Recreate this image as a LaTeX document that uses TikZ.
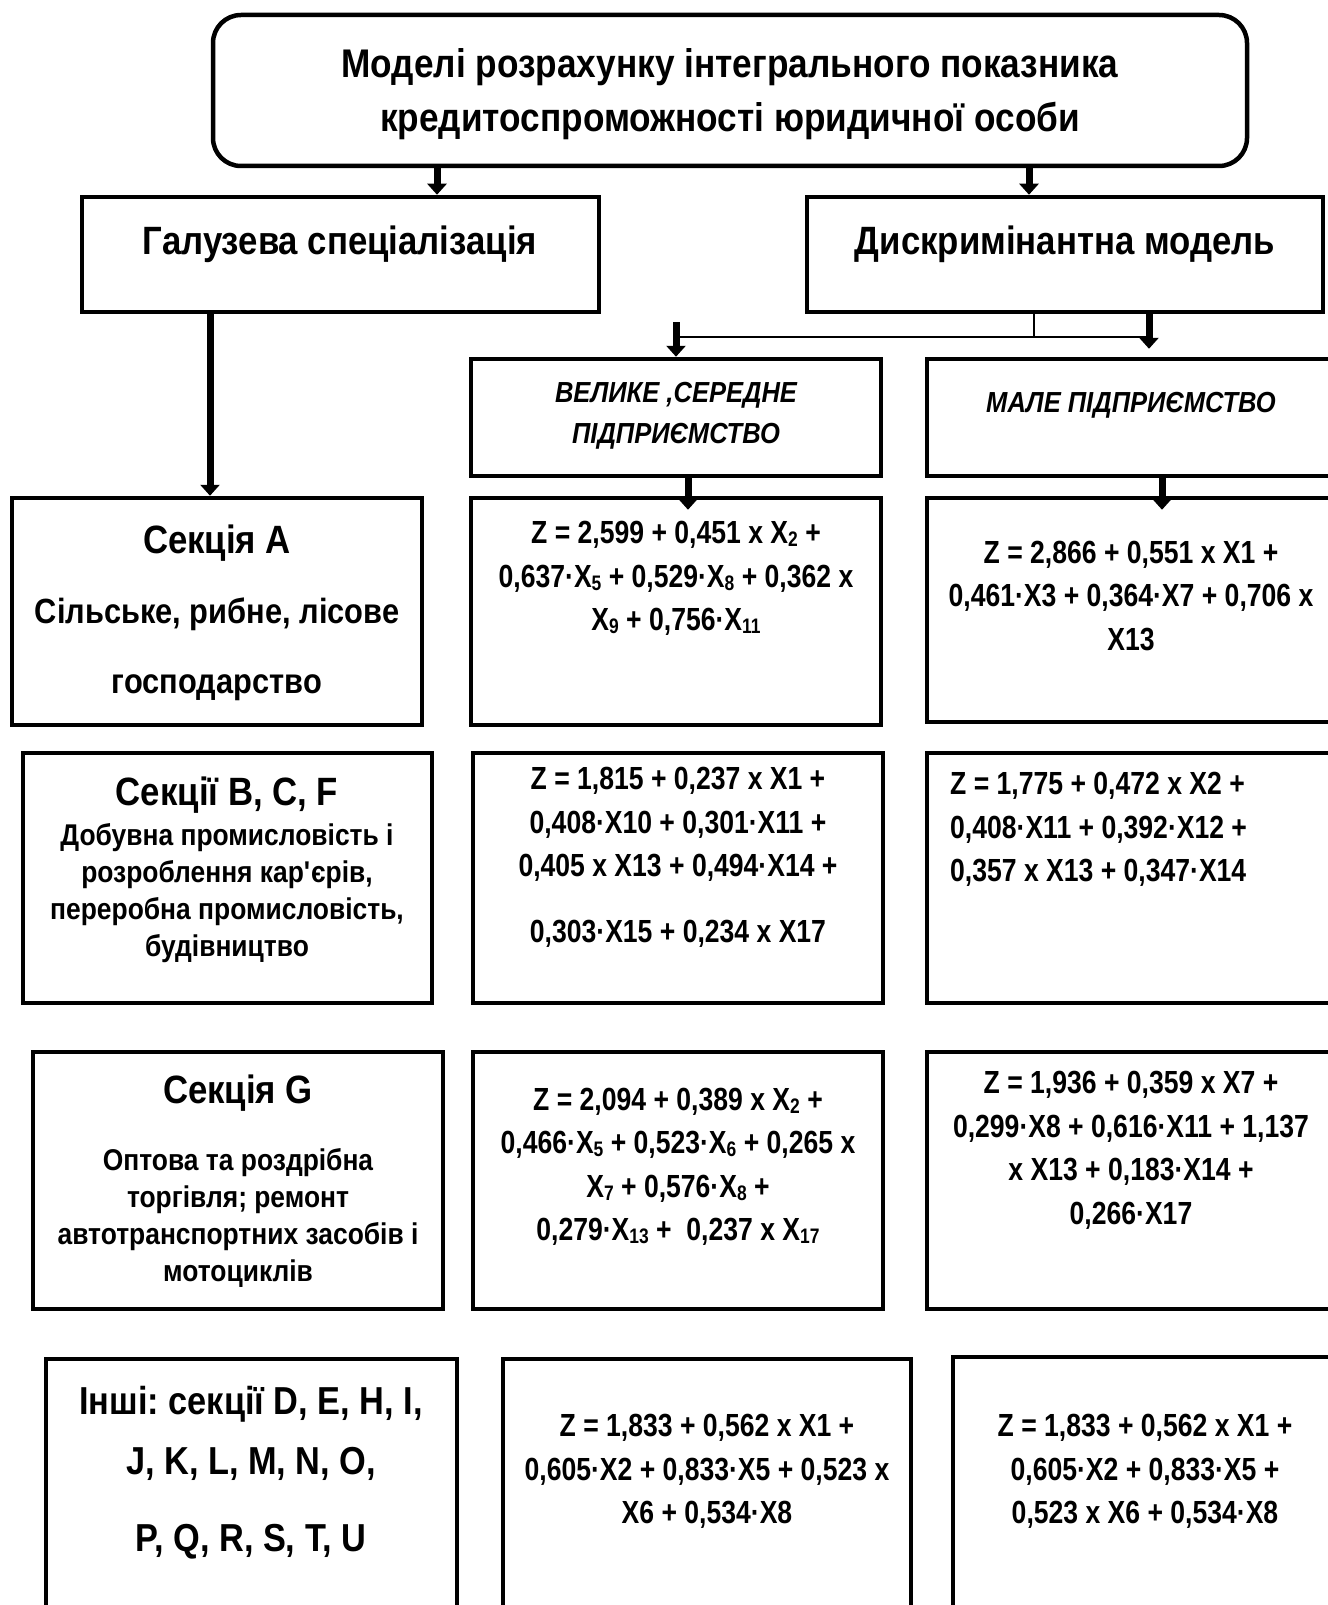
\documentclass[tikz,border=0pt]{standalone}
\usepackage{fontspec}
\setmainfont{Liberation Sans}[FakeStretch=0.88]
\newfontfamily\forfam{Liberation Sans}[FakeStretch=0.83]
\usetikzlibrary{arrows.meta}
\frenchspacing
\tikzset{
  box/.style={draw, line width=4.5pt, inner sep=0pt},
  txt/.style={align=center, inner sep=0pt, yshift=-3pt},
  arr/.style={line width=7pt, -{Triangle[width=19pt,length=11pt]}},
  thinline/.style={line width=2pt},
}
\newcommand\fBig{\fontsize{39.5}{54}\selectfont\bfseries}
\newcommand\fHead{\fontsize{40}{54}\selectfont\bfseries}
\newcommand\fIt{\fontsize{29}{41}\selectfont\bfseries\itshape}
\newcommand\fFor{\forfam\fontsize{32}{43.5}\selectfont\bfseries}
\newcommand\fDesc{\fontsize{30}{37}\selectfont\bfseries}
\newcommand\sbs[1]{\raisebox{-3pt}{\fontsize{21}{21}\selectfont #1}}
\newcommand\apos{\XeTeXglyph\numexpr\XeTeXcharglyph"0027\relax}
\begin{document}
\begin{tikzpicture}[x=1pt,y=-1pt]
\useasboundingbox (0,0) rectangle (1327,1605);
% boxes
\node[box, rounded corners=28pt, minimum width=1034pt, minimum height=151pt] (top) at (730,90.5) {};
\node[box, minimum width=517pt, minimum height=115pt] (gal) at (340.5,254.5) {};
\node[box, minimum width=516pt, minimum height=115pt] (dys) at (1065,254.5) {};
\node[box, minimum width=410pt, minimum height=117pt] (vel) at (676,417.5) {};
\node[box, minimum width=408pt, minimum height=117pt] (mal) at (1131,417.5) {};
\node[box, minimum width=410pt, minimum height=227pt] (secA) at (217,611.5) {};
\node[box, minimum width=410pt, minimum height=227pt] (fA1) at (676,611.5) {};
\node[box, minimum width=408pt, minimum height=224pt] (fA2) at (1131,610) {};
\node[box, minimum width=409pt, minimum height=250pt] (secB) at (227.5,878) {};
\node[box, minimum width=410pt, minimum height=250pt] (fB1) at (678,878) {};
\node[box, minimum width=408pt, minimum height=250pt] (fB2) at (1131,878) {};
\node[box, minimum width=410pt, minimum height=257pt] (secG) at (238,1180.5) {};
\node[box, minimum width=410pt, minimum height=257pt] (fG1) at (678,1180.5) {};
\node[box, minimum width=408pt, minimum height=257pt] (fG2) at (1131,1180.5) {};
\node[box, minimum width=411pt, minimum height=261pt] (secO) at (251.5,1489.5) {};
\node[box, minimum width=408pt, minimum height=261pt] (fO1) at (707,1489.5) {};
\node[box, minimum width=384pt, minimum height=263pt] (fO2) at (1145,1488.5) {};
% texts
\node[txt, font=\fHead] (tTop) at (730,91) {Моделі розрахунку інтегрального показника\\кредитоспроможності юридичної особи};
\node[txt, font=\fBig] (tGal) at (340,241) {Галузева спеціалізація};
\node[txt, font=\fBig] (tDys) at (1065,241) {Дискримінантна модель};
\node[txt, font=\fIt] (tVel) at (676,412.5) {ВЕЛИКЕ ,СЕРЕДНЕ\\ПІДПРИЄМСТВО};
\node[txt, font=\fIt] (tMal) at (1131,402) {МАЛЕ ПІДПРИЄМСТВО};
\node[txt, font=\fBig] (tSecA) at (217,540) {Секція А};
\node[txt, font={\fontsize{35}{70}\selectfont\bfseries}] (dSecA) at (217,646) {Сільське, рибне, лісове\\господарство};
\node[txt, font=\fFor] (tA1) at (676,575.5) {Z = 2,599 + 0,451 x X\sbs{2} +\\0,637·X\sbs{5} + 0,529·X\sbs{8} + 0,362 x\\X\sbs{9} + 0,756·X\sbs{11}};
\node[txt, font=\fFor] (tA2) at (1131,593) {Z = 2,866 + 0,551 x X1 +\\0,461·X3 + 0,364·X7 + 0,706 x\\X13};
\node[txt, font=\fBig] (tSecB) at (227,792) {Секції B, C, F};
\node[txt, font=\fDesc] (dSecB) at (227,890) {Добувна промисловість і\\розроблення кар\apos єрів,\\переробна промисловість,\\будівництво};
\node[txt, font=\fFor] (tB1) at (678,854.5) {Z = 1,815 + 0,237 x X1 +\\0,408·X10 + 0,301·X11 +\\0,405 x X13 + 0,494·X14 +\\[22pt]0,303·X15 + 0,234 x X17};
\node[txt, font=\fFor, align=left, anchor=west] (tB2) at (950,826.5) {Z = 1,775 + 0,472 x X2 +\\0,408·X11 + 0,392·X12 +\\0,357 x X13 + 0,347·X14};
\node[txt, font=\fBig] (tSecG) at (238,1090) {Секція G};
\node[txt, font=\fDesc] (dSecG) at (238,1214.5) {Оптова та роздрібна\\торгівля; ремонт\\автотранспортних засобів і\\мотоциклів};
\node[txt, font=\fFor] (tG1) at (678,1164) {Z = 2,094 + 0,389 x X\sbs{2} +\\0,466·X\sbs{5} + 0,523·X\sbs{6} + 0,265 x\\X\sbs{7} + 0,576·X\sbs{8} +\\0,279·X\sbs{13} +\ \ 0,237 x X\sbs{17}};
\node[txt, font=\fFor] (tG2) at (1131,1147.5) {Z = 1,936 + 0,359 x X7 +\\0,299·X8 + 0,616·X11 + 1,137\\x X13 + 0,183·X14 +\\0,266·X17};
\node[txt, font={\fontsize{39}{60}\selectfont\bfseries}] (tSecO) at (251,1469.5) {Інші: секції D, E, H, I,\\J, K, L, M, N, O,\\[17pt]P, Q, R, S, T, U};
\node[txt, font=\fFor] (tO1) at (707,1468.5) {Z = 1,833 + 0,562 x X1 +\\0,605·X2 + 0,833·X5 + 0,523 x\\X6 + 0,534·X8};
\node[txt, font=\fFor] (tO2) at (1145,1468.5) {Z = 1,833 + 0,562 x X1 +\\0,605·X2 + 0,833·X5 +\\0,523 x X6 + 0,534·X8};
% connectors
\coordinate (xL) at (437,0);
\coordinate (xR) at (1029,0);
\coordinate (xA) at (210,0);
\coordinate (xS) at (1034,0);
\coordinate (yS) at (0,337);
\coordinate (xV) at (676,0);
\coordinate (xM) at (1149,0);
\coordinate (xV2) at (688,0);
\coordinate (xM2) at (1162,0);
\draw[arr] (top.south -| xL) -- (gal.north -| xL);
\draw[arr] (top.south -| xR) -- (dys.north -| xR);
\draw[arr] (gal.south -| xA) -- (secA.north -| xA);
\draw[thinline] (dys.south -| xS) -- (xS |- yS);
\draw[thinline] (xV |- yS) -- (xM |- yS);
\draw[arr] ([yshift=15pt]xV |- yS) -- (vel.north -| xV);
\draw[arr] ([yshift=2pt]dys.south -| xM) -- ([yshift=8pt]mal.north -| xM);
\draw[arr] (vel.south -| xV2) -- ([yshift=-14pt]fA1.north -| xV2);
\draw[arr] (mal.south -| xM2) -- ([yshift=-14pt]fA2.north -| xM2);
\end{tikzpicture}
\end{document}
